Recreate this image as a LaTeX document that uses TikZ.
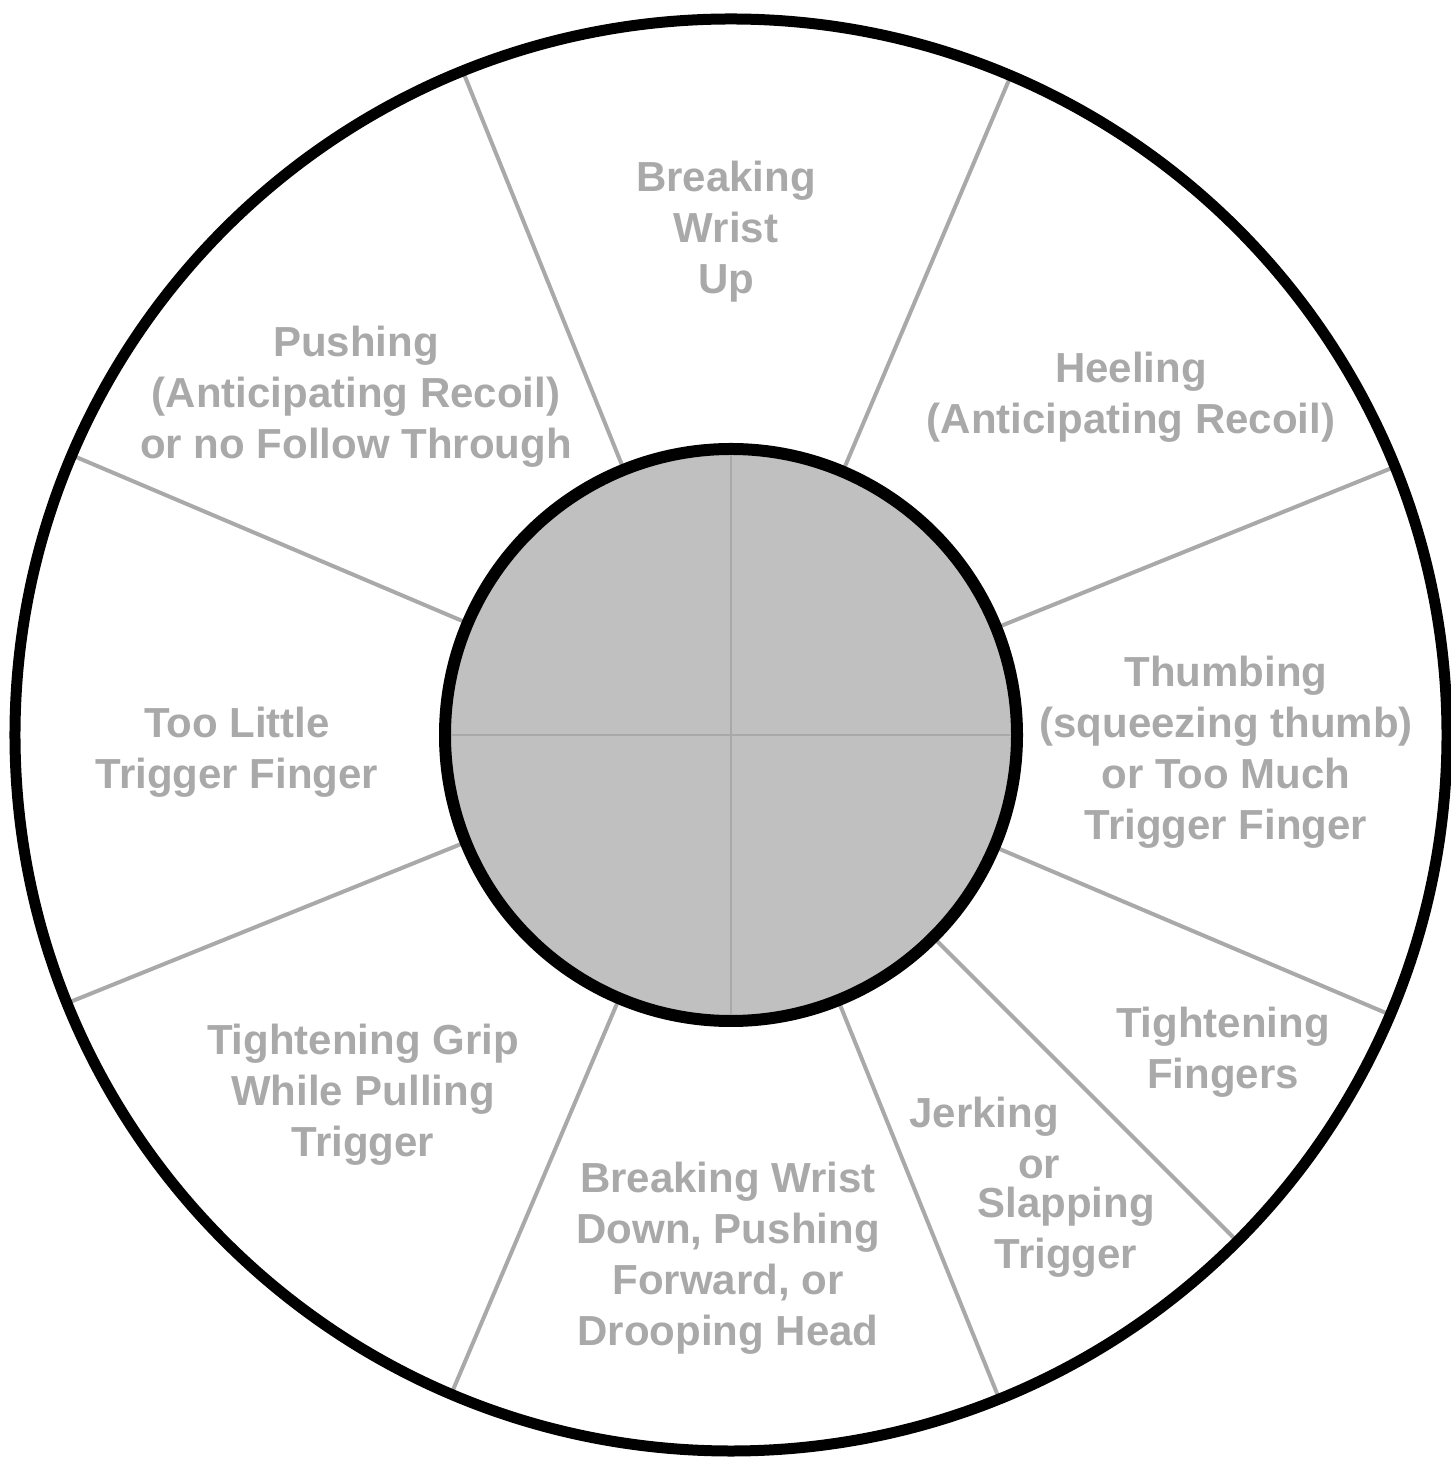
\documentclass[tikz,border=0pt]{standalone}
\usepackage{fontspec}
\setmainfont{Liberation Sans}
\usetikzlibrary{backgrounds}
\definecolor{faint}{HTML}{A9A9A9}
\definecolor{hubgray}{HTML}{C0C0C0}

\begin{document}
\begin{tikzpicture}[font=\fontsize{11.95}{14.5}\selectfont\bfseries,
  lbl/.style={text=faint,align=center,inner sep=0pt},
  ring/.style={circle,draw,inner sep=0pt,outer sep=0pt},
  spoke/.style={draw=faint,line width=0.04cm},
  cross/.style={draw=faint,line width=0.02cm,shorten >=0.06cm,shorten <=0.06cm}]
\useasboundingbox (-7.31,-7.24) rectangle (7.19,7.35);
\node[ring,line width=0.11cm,minimum size=14.32cm] (rim) at (0,0) {};
\node[ring,fill=hubgray,line width=0.12cm,minimum size=5.72cm] (hub) at (0,0) {};
\draw[cross] (hub.north)--(hub.south); \draw[cross] (hub.west)--(hub.east);
\begin{scope}[on background layer]
\draw[spoke] (hub.22.5)--(rim.22.5); \draw[spoke] (hub.67.5)--(rim.67.5); \draw[spoke] (hub.112.5)--(rim.112.5);
\draw[spoke] (hub.157.5)--(rim.157.5); \draw[spoke] (hub.202.5)--(rim.202.5); \draw[spoke] (hub.247.5)--(rim.247.5);
\draw[spoke] (hub.292.5)--(rim.292.5); \draw[spoke] (hub.315)--(rim.315); \draw[spoke] (hub.337.5)--(rim.337.5);
\end{scope}
\node[lbl] (wristup) at (-0.05,5.03) {Breaking\\Wrist\\Up};
\node[lbl] (heel) at (4.00,3.38) {Heeling\\(Anticipating Recoil)};
\node[lbl] (push) at (-3.75,3.38) {Pushing\\(Anticipating Recoil)\\or no Follow Through};
\node[lbl] (little) at (-4.94,-0.17) {Too Little\\Trigger Finger};
\node[lbl] (thumb) at (4.95,-0.17) {Thumbing\\(squeezing thumb)\\or Too Much\\Trigger Finger};
\node[lbl] (fingers) at (4.92,-3.17) {Tightening\\Fingers};
\node[lbl] (grip) at (-3.68,-3.60) {Tightening Grip\\While Pulling\\Trigger};
\node[lbl] (wristdown) at (-0.03,-5.23) {Breaking Wrist\\Down, Pushing\\Forward, or\\Drooping Head};
\node[lbl,anchor=base] (jerk) at (2.53,-3.92) {Jerking};
\node[lbl,anchor=base] (jor) at (3.08,-4.43) {or};
\node[lbl] (slap) at (3.35,-4.975) {Slapping\\Trigger};
\end{tikzpicture}
\end{document}
